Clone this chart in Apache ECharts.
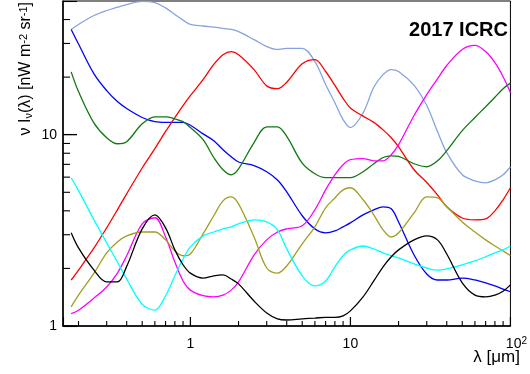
<!DOCTYPE html>
<html>
<head>
<meta charset="utf-8">
<script src="https://cdn.jsdelivr.net/npm/echarts@6/dist/echarts.min.js"></script>
<style>
  html, body { margin: 0; padding: 0; background: #fff; }
  #chart { width: 530px; height: 374px; }
</style>
</head>
<body>
<div id="chart"></div>
<script>
// Wavelength grid (μm) shared by all spectra
const wavelengths = [0.18, 0.2, 0.25, 0.3, 0.35, 0.4, 0.5, 0.6, 0.7, 0.8, 0.9,
  1, 1.2, 1.4, 1.6, 1.8, 2, 2.5, 3, 3.5, 4, 5, 6, 7, 8, 9,
  10, 12, 14, 16, 18, 20, 25, 30, 35, 40, 50, 60, 70, 80, 90, 100];

// νIν(λ) in nW m^-2 sr^-1 for each model spectrum
const specLightBlue = [35.5, 37.7, 42.0, 44.6, 46.4, 47.9, 49.8, 49.1, 46.0, 42.5, 39.7,
  37.7, 37.0, 36.5, 36.0, 35.5, 34.6, 31.4, 28.9, 27.9, 28.3, 28.3, 24.1, 18.3, 14.7, 12.0,
  10.9, 13.0, 17.7, 20.6, 21.9, 21.4, 18.1, 14.2, 10.4, 8.06, 6.17, 5.74, 5.6, 5.81, 6.17, 6.8];
const specBlue = [35.5, 29.8, 20.8, 17.0, 14.9, 13.7, 12.3, 11.7, 11.6, 11.6, 11.6,
  11.2, 10.1, 9.3, 8.35, 7.67, 7.2, 6.9, 6.4, 5.8, 5.03, 3.77, 3.22, 3.07, 3.14, 3.30,
  3.46, 3.81, 4.05, 4.2, 4.1, 3.5, 2.35, 1.87, 1.74, 1.74, 1.78, 1.74, 1.68, 1.62, 1.56, 1.51];
const specRed = [1.74, 1.96, 2.56, 3.26, 4.05, 4.91, 6.7, 8.45, 10.4, 12.3, 14.2,
  16.0, 19.4, 23.3, 26.2, 27.2, 26.2, 21.9, 18.0, 17.4, 18.8, 23.5, 24.7, 21.4, 18.1, 15.5,
  13.8, 12.5, 11.6, 10.6, 9.64, 8.65, 6.56, 5.63, 4.85, 4.2, 3.67, 3.59, 3.63, 4.0, 4.57, 5.28];
const specGreen = [21.3, 16.8, 11.5, 9.65, 8.97, 9.2, 11.4, 12.4, 12.4, 12.1, 11.7,
  10.9, 9.42, 7.6, 6.56, 6.17, 6.63, 9.1, 11.0, 11.0, 9.8, 7.1, 6.25, 5.96, 5.96, 5.96,
  5.96, 6.4, 7.05, 7.6, 7.76, 7.7, 7.05, 6.8, 7.3, 8.25, 10.5, 12.3, 14.0, 15.7, 17.4, 18.6];
const specMagenta = [1.16, 1.21, 1.40, 1.60, 1.89, 2.33, 3.42, 3.68, 2.92, 2.16, 1.72,
  1.54, 1.44, 1.42, 1.45, 1.54, 1.70, 2.35, 2.82, 3.1, 3.22, 3.34, 4.05, 5.15, 6.17, 6.97,
  7.4, 7.5, 7.3, 7.3, 7.86, 8.87, 12.6, 16.2, 19.6, 23.0, 27.9, 29.3, 27.2, 23.8, 20.1, 16.6];
const specOlive = [1.26, 1.45, 1.89, 2.41, 2.75, 2.96, 3.1, 3.1, 2.82, 2.47, 2.33,
  2.38, 3.03, 3.77, 4.51, 4.73, 4.35, 2.92, 2.01, 1.89, 2.06, 2.69, 3.3, 4.15, 4.67, 5.15,
  5.28, 4.57, 3.81, 3.18, 2.92, 3.07, 3.9, 4.73, 4.67, 4.2, 3.5, 3.1, 2.82, 2.62, 2.47, 2.33];
const specCyan = [5.96, 5.1, 3.59, 2.72, 2.16, 1.76, 1.30, 1.21, 1.44, 1.83, 2.24,
  2.59, 2.96, 3.1, 3.22, 3.3, 3.42, 3.59, 3.5, 3.18, 2.53, 1.83, 1.62, 1.72, 2.04, 2.33,
  2.5, 2.62, 2.53, 2.41, 2.33, 2.27, 2.11, 2.01, 1.96, 1.99, 2.09, 2.19, 2.30, 2.41, 2.5, 2.62];
const specBlack = [3.07, 2.56, 1.96, 1.70, 1.70, 2.05, 3.22, 3.81, 3.26, 2.5, 2.09,
  1.89, 1.78, 1.83, 1.85, 1.76, 1.66, 1.35, 1.17, 1.09, 1.075, 1.09, 1.1, 1.11, 1.11, 1.13,
  1.2, 1.42, 1.72, 2.04, 2.3, 2.5, 2.82, 2.96, 2.82, 2.38, 1.68, 1.45, 1.42, 1.45, 1.52, 1.64];

// Axis ranges and tick positions (in data units)
const xRange = [0.16, 100];
const yRange = [1, 50];
const xMajorTicks = [1, 10, 100];
const xMinorTicks = [0.2, 0.3, 0.4, 0.5, 0.6, 0.7, 0.8, 0.9, 2, 3, 4, 5, 6, 7, 8, 9,
  20, 30, 40, 50, 60, 70, 80, 90];
const yMajorTicks = [1, 10];
const yMinorTicks = [2, 3, 4, 5, 6, 7, 8, 9, 20, 30, 40];

const FONT = 'Liberation Sans, Arial, Helvetica, sans-serif';

const curves = [
  { name: 'lightblue', color: '#86a3e0', values: specLightBlue },
  { name: 'blue', color: '#0000ff', values: specBlue },
  { name: 'red', color: '#ff0000', values: specRed },
  { name: 'green', color: '#137813', values: specGreen },
  { name: 'magenta', color: '#ff00ff', values: specMagenta },
  { name: 'olive', color: '#a39e22', values: specOlive },
  { name: 'cyan', color: '#00ffff', values: specCyan },
  { name: 'black', color: '#000000', values: specBlack }
];

function pow10Label(v) {
  if (Math.abs(v - 100) < 1e-6) return '{m|10}{s|2}';
  return '{n|' + Math.round(v) + '}';
}

const labelRich = {
  n: { fontSize: 14, fontFamily: FONT, color: '#000', lineHeight: 16 },
  m: { fontSize: 14, fontFamily: FONT, color: '#000', lineHeight: 16, padding: [0, 0, 0, 12] },
  s: { fontSize: 10, fontFamily: FONT, color: '#000', lineHeight: 10, verticalAlign: 'top' }
};

function dataAxis(range, position, labelMargin, labelValues, tickLen) {
  return {
    type: 'log', logBase: 10, gridIndex: 0, position: position,
    min: range[0], max: range[1],
    axisLine: { show: true, onZero: false, lineStyle: { color: '#000', width: 1.5 } },
    axisTick: { show: true, inside: true, length: tickLen, lineStyle: { color: '#000', width: 1.1 } },
    axisLabel: { show: true, margin: labelMargin, customValues: labelValues,
      formatter: pow10Label, rich: labelRich },
    splitLine: { show: false },
    minorTick: { show: false },
    minorSplitLine: { show: false }
  };
}

const chart = echarts.init(document.getElementById('chart'), null, { renderer: 'canvas' });

chart.setOption({
  animation: false,
  backgroundColor: '#fff',
  textStyle: { fontFamily: FONT },
  grid: {
    left: 63, right: 10, top: 1, bottom: 48,
    show: true, borderColor: '#000', borderWidth: 1, backgroundColor: 'transparent'
  },
  title: {
    text: '2017 ICRC',
    right: 22, top: 20, padding: 0,
    textStyle: { fontSize: 20, fontWeight: 'bold', fontFamily: FONT, color: '#000' }
  },
  xAxis: [dataAxis(xRange, 'bottom', 10, xMajorTicks, 9)],
  yAxis: [dataAxis(yRange, 'left', 6, yMajorTicks, 14)],
  series: curves.map(c => ({
    name: c.name,
    type: 'line',
    showSymbol: false,
    smooth: 0.35,
    clip: true,
    lineStyle: { color: c.color, width: 1.3 },
    itemStyle: { color: c.color },
    data: wavelengths.map((w, i) => [w, c.values[i]])
  }))
});

// Inward-pointing decade and sub-decade ticks, positioned through the grid's log scales
const tickLines = [];
function addTicks(values, len, onYAxis) {
  values.forEach(v => {
    const p = chart.convertToPixel({ gridIndex: 0 }, onYAxis ? [xRange[0], v] : [v, yRange[0]]);
    if (!p) return;
    tickLines.push({
      type: 'line', z: 3, silent: true,
      shape: onYAxis
        ? { x1: p[0], y1: p[1], x2: p[0] + len, y2: p[1] }
        : { x1: p[0], y1: p[1], x2: p[0], y2: p[1] - len },
      style: { stroke: '#000', lineWidth: 1.1 }
    });
  });
}
addTicks(xMajorTicks, 9, false);
addTicks(xMinorTicks, 5, false);
addTicks(yMajorTicks, 14, true);
addTicks(yMinorTicks, 7, true);

// Axis titles
const axisTitles = [
  {
    type: 'text', x: 26, y: 2, rotation: Math.PI / 2, z: 20,
    style: {
      text: 'ν I{sub|ν}(λ) [nW m{sup|-2} sr{sup|-1}]',
      fontSize: 16, fontFamily: FONT, fill: '#000',
      align: 'right', verticalAlign: 'middle',
      rich: {
        sub: { fontSize: 11, fontFamily: FONT, fill: '#000', lineHeight: 11, verticalAlign: 'bottom' },
        sup: { fontSize: 11, fontFamily: FONT, fill: '#000', lineHeight: 11, verticalAlign: 'top' }
      }
    }
  },
  {
    type: 'text', x: 520, y: 357, z: 20,
    style: {
      text: 'λ [μm]', fontSize: 17, fontFamily: FONT, fill: '#000',
      align: 'right', verticalAlign: 'middle'
    }
  }
];

chart.setOption({ graphic: tickLines.concat(axisTitles) });
</script>
</body>
</html>
